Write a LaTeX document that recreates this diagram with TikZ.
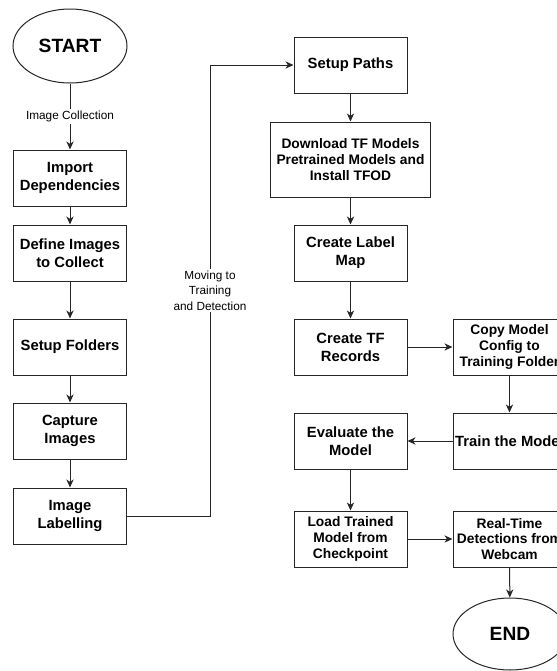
\documentclass[tikz,border=0pt]{standalone}
\usepackage{fontspec}
\setmainfont{Liberation Sans}
\usetikzlibrary{arrows.meta,shapes.geometric}
\begin{document}
\begin{tikzpicture}[x=0.5pt,y=-0.5pt,
	box/.style={shape=rectangle,draw=black!85,line width=0.5pt,minimum width=56.5pt,minimum height=28pt,inner sep=0pt,align=center,font=\fontsize{7.4}{9}\selectfont\bfseries},
	smallbox/.style={box,font=\fontsize{6.9}{7.8}\selectfont\bfseries},
	terminal/.style={shape=ellipse,draw=black!85,line width=0.5pt,minimum width=57pt,minimum height=37pt,inner sep=0pt,font=\fontsize{9.6}{11}\selectfont\bfseries},
	flow/.style={draw=black!85,line width=0.5pt,-{Stealth[length=4pt,width=3.6pt,inset=1.2pt]}},
	edgetext/.style={fill=white,inner sep=1pt,align=center,font=\fontsize{5.9}{7.75}\selectfont}]
	\clip (0,0) rectangle (557,671);

	% left column
	\node[terminal] (start) at (70,46) {START};
	\node[box] (import) at (70,178) {Import\\Dependencies};
	\node[box] (define) at (70,253) {Define Images\\to Collect};
	\node[box] (folders) at (70,347) {Setup Folders};
	\node[box] (capture) at (70,431) {Capture\\Images};
	\node[box] (labelling) at (70,516) {Image\\Labelling};

	% middle column
	\node[box] (paths) at (350.5,65) {Setup Paths};
	\node[smallbox,minimum width=80pt,minimum height=37.5pt] (download) at (350.5,159.5) {Download TF Models\\Pretrained Models and\\Install TFOD};
	\node[box] (labelmap) at (350.5,253) {Create Label\\Map};
	\node[box] (records) at (350.5,347) {Create TF\\Records};
	\node[box] (evaluate) at (350.5,441) {Evaluate the\\Model};
	\node[smallbox] (load) at (350.5,539) {Load Trained\\Model from\\Checkpoint};

	% right column (cut at the right edge, as in the original)
	\node[smallbox] (config) at (509.5,347) {Copy Model\\Config to\\Training Folder};
	\node[box] (train) at (509.5,441) {Train the Model};
	\node[smallbox] (realtime) at (509.5,539) {Real-Time\\Detections from\\Webcam};
	\node[terminal,minimum height=36pt] (end) at (510,634) {END};

	\coordinate (turn) at (210,516);

	\draw[flow] (start) -- node[edgetext] {Image Collection} (import);
	\draw[flow] (import) -- (define);
	\draw[flow] (define) -- (folders);
	\draw[flow] (folders) -- (capture);
	\draw[flow] (capture) -- (labelling);
	\draw[flow] (labelling.east) -- (turn) |- node[edgetext,pos=0.25] {Moving to\\Training\\and Detection} (paths.west);
	\draw[flow] (paths) -- (download);
	\draw[flow] (download) -- (labelmap);
	\draw[flow] (labelmap) -- (records);
	\draw[flow] (records) -- (config);
	\draw[flow] (config) -- (train);
	\draw[flow] (train) -- (evaluate);
	\draw[flow] (evaluate) -- (load);
	\draw[flow] (load) -- (realtime);
	\draw[flow] (realtime) -- (end);
\end{tikzpicture}
\end{document}
